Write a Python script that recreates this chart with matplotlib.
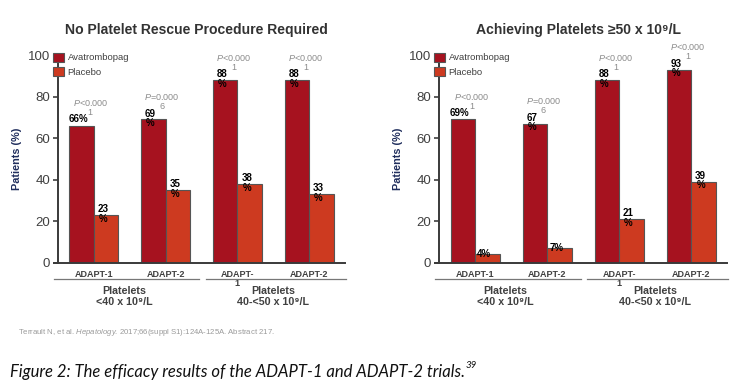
import matplotlib
matplotlib.use("Agg")
import matplotlib.pyplot as plt
import matplotlib.transforms as mtransforms
import numpy as np

plt.rcParams['font.family'] = ['Liberation Sans', 'DejaVu Sans']
plt.rcParams['mathtext.fontset'] = 'custom'
plt.rcParams['mathtext.rm'] = 'Liberation Sans'
plt.rcParams['mathtext.it'] = 'Liberation Sans:italic'

# Daten
studien = ["ADAPT-1", "ADAPT-2", "ADAPT-\n1", "ADAPT-2"]
gruppen = ["Platelets\n<40 x 10⁹/L", "Platelets\n40-<50 x 10⁹/L"]

titel_links = "No Platelet Rescue Procedure Required"
avatro_links = [66, 69, 88, 88]
placebo_links = [23, 35, 38, 33]
avatro_text_links = ["66%", "69\n%", "88\n%", "88\n%"]
placebo_text_links = ["23\n%", "35\n%", "38\n%", "33\n%"]
p_links = ["<0.000\n1", "=0.000\n6", "<0.000\n1", "<0.000\n1"]

titel_rechts = "Achieving Platelets ≥50 x 10⁹/L"
avatro_rechts = [69, 67, 88, 93]
placebo_rechts = [4, 7, 21, 39]
avatro_text_rechts = ["69%", "67\n%", "88\n%", "93\n%"]
placebo_text_rechts = ["4%", "7%", "21\n%", "39\n%"]
p_rechts = ["<0.000\n1", "=0.000\n6", "<0.000\n1", "<0.000\n1"]

FARBE_AVATRO = "#A6121F"
FARBE_PLACEBO = "#CD3A20"
GRAU = "#404040"
W, H = 743, 384


def wert_position(wert, text):
    if "\n" in text:
        return wert + 0.5
    if wert >= 10:
        return wert + 3.2
    return wert + 0.3


def diagramm(ax, titel, avatro, placebo, avatro_text, placebo_text, p_werte):
    x = np.arange(len(studien))
    breite = 0.34
    b1 = ax.bar(x - breite / 2, avatro, breite, color=FARBE_AVATRO,
                edgecolor="#555555", linewidth=0.8, label="Avatrombopag")
    b2 = ax.bar(x + breite / 2, placebo, breite, color=FARBE_PLACEBO,
                edgecolor="#555555", linewidth=0.8, label="Placebo")

    for rects, texte in ((b1, avatro_text), (b2, placebo_text)):
        for rect, txt in zip(rects, texte):
            h = rect.get_height()
            ax.text(rect.get_x() + rect.get_width() / 2 - 0.04, wert_position(h, txt), txt,
                    ha="center", va="center", fontsize=7, fontweight="bold",
                    linespacing=0.95, color="black", clip_on=False)

    for i, p in enumerate(p_werte):
        oben, unten = p.split("\n")
        ax.text(x[i] - 0.05, avatro[i] + 8.6, "$\\it{P}$" + oben + "\n" + unten,
                ha="center", va="center", multialignment="center",
                fontsize=6.5, color="#8c8c8c", linespacing=1.0, clip_on=False)

    ax.set_ylim(0, 100)
    ax.set_xlim(-0.5, 3.5)
    ax.set_yticks([0, 20, 40, 60, 80, 100])
    ax.tick_params(axis="y", labelsize=9.5, labelcolor=GRAU, color=GRAU,
                   length=3.6, width=1.2, pad=2)
    ax.set_xticks(x)
    ax.set_xticklabels(studien, fontsize=6.5, fontweight="bold", color=GRAU,
                       linespacing=1.05)
    ax.tick_params(axis="x", length=0, pad=5)
    for s in ("top", "right"):
        ax.spines[s].set_visible(False)
    for s in ("left", "bottom"):
        ax.spines[s].set_color("#3a3a3a")
        ax.spines[s].set_linewidth(1.4)
    # x-Achse etwas nach links verlaengern wie im Original
    ax.plot([-0.57, -0.5], [0, 0], color="#3a3a3a", lw=1.4, clip_on=False,
            solid_capstyle="butt")

    ax.set_ylabel("Patients (%)", fontsize=7.8, fontweight="bold", color="#1F2D5C",
                  labelpad=4)
    ax.set_title(titel, x=0.483, fontsize=10.1, fontweight="bold", color="#333333",
                 pad=15)

    trans = mtransforms.blended_transform_factory(ax.transData, ax.transAxes)
    for x0, x1 in ((-0.56, 1.47), (1.56, 3.51)):
        ax.plot([x0, x1], [-0.078, -0.078], transform=trans, color="#777777",
                lw=0.9, clip_on=False)
    for xm, txt in zip((0.42, 2.5), gruppen):
        ax.text(xm, -0.162, txt, transform=trans, ha="center", va="center",
                fontsize=7.7, fontweight="bold", color=GRAU, linespacing=1.05)

    ax.legend(loc="upper left", bbox_to_anchor=(-0.016, 1.012), frameon=False,
              fontsize=6.8, handlelength=1.1, handleheight=1.1,
              handletextpad=0.4, labelspacing=0.5, borderpad=0, borderaxespad=0,
              labelcolor=GRAU)


fig = plt.figure(figsize=(W / 100, H / 100), dpi=100)
ax1 = fig.add_axes([58 / W, (H - 262.7) / H, 287 / W, 207.7 / H])
ax2 = fig.add_axes([439 / W, (H - 262.7) / H, 288.3 / W, 207.7 / H])

diagramm(ax1, titel_links, avatro_links, placebo_links,
         avatro_text_links, placebo_text_links, p_links)
diagramm(ax2, titel_rechts, avatro_rechts, placebo_rechts,
         avatro_text_rechts, placebo_text_rechts, p_rechts)

# Quelle
fig.text(18 / W, 1 - 332.3 / H,
         "Terrault N, et al. $\\it{Hepatology}$. 2017;66(suppl S1):124A-125A. Abstract 217.",
         fontsize=5.6, color="#9a9a9a", va="center", ha="left")

# Bildunterschrift
cap = fig.text(10 / W, 1 - 371.7 / H,
               "Figure 2: The efficacy results of the ADAPT-1 and ADAPT-2 trials.",
               fontsize=12, family=["Lato", "DejaVu Sans"], style="italic",
               color="#111111", va="center", ha="left")
fig.canvas.draw()
bb = cap.get_window_extent()
fig.text((bb.x1 + 1) / W, 1 - 366 / H, "39", fontsize=7,
         family=["Lato", "DejaVu Sans"], style="italic", color="#111111",
         va="center", ha="left")

fig.savefig("out.png", dpi=100)
